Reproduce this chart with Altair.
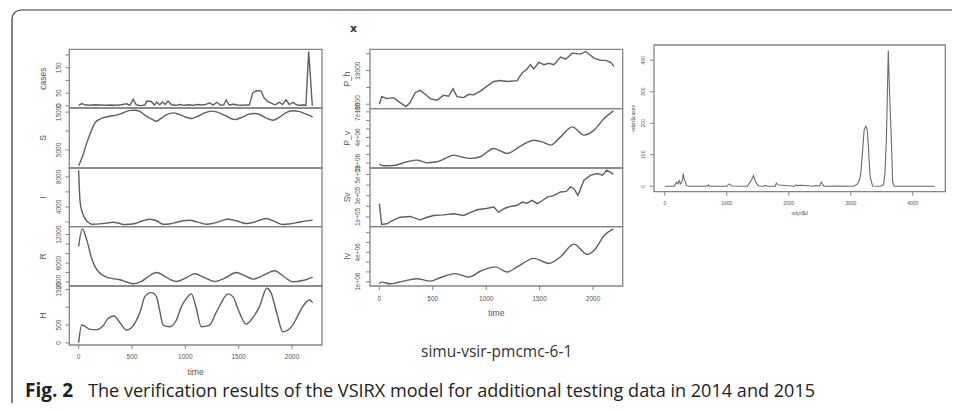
import altair as alt
import pandas as pd

# ---------------- data ----------------
cases_t = [0, 28, 60, 100, 150, 200, 250, 300, 350, 400, 450, 480, 511, 540, 580, 620, 640, 680, 710, 730,
           760, 785, 810, 838, 870, 910, 950, 990, 1030, 1070, 1110, 1150, 1190, 1227, 1260, 1296, 1330, 1360, 1383, 1410,
           1450, 1490, 1530, 1570, 1600, 1632, 1670, 1710, 1740, 1772, 1800, 1840, 1882, 1910, 1944, 1975, 2010, 2037, 2070, 2100,
           2130, 2156, 2190]
cases_v = [2, 9, 4, 2, 4, 3, 2, 3, 2, 4, 8, 2, 26, 4, 1, 3, 19, 17, 3, 15,
           4, 15, 5, 19, 4, 2, 5, 2, 4, 2, 5, 3, 5, 12, 3, 14, 2, 4, 23, 3,
           6, 3, 2, 3, 3, 52, 60, 58, 30, 17, 12, 4, 14, 5, 24, 5, 14, 5, 2, 3,
           2, 214, 0]

S_t = [0, 40, 75, 115, 153, 190, 230, 290, 355, 400, 449, 490, 526, 573, 620, 680, 729, 780, 830, 885,
       940, 1000, 1056, 1110, 1180, 1243, 1300, 1380, 1461, 1530, 1590, 1648, 1700, 1760, 1819, 1880, 1940, 2006, 2060, 2120, 2193]
S_v = [800, 3600, 6800, 9800, 12150, 13000, 13500, 13900, 14200, 14600, 15200, 15450, 15500, 15200, 14200, 13200, 12600, 13500, 14400, 14800,
       14400, 13700, 13300, 13800, 14800, 15250, 15000, 14000, 13000, 13600, 14400, 14650, 14300, 13400, 12850, 13600, 14800, 15350, 15200, 14600, 13750]

I_t = [0, 12, 28, 50, 75, 100, 121, 170, 230, 280, 324, 370, 417, 470, 526, 600, 667, 730, 791, 850,
       920, 980, 1040, 1110, 1196, 1260, 1330, 1399, 1480, 1570, 1640, 1700, 1757, 1830, 1913, 1990, 2060, 2131, 2193]
I_v = [8900, 4900, 3560, 2700, 2130, 1850, 1690, 1700, 1780, 1880, 1960, 1850, 1650, 1680, 1780, 2150, 2360, 2150, 1690, 1720,
       1950, 2150, 2230, 2000, 1690, 1800, 2100, 2360, 2150, 1780, 1950, 2250, 2450, 2100, 1650, 1750, 1950, 2130, 2230]

R_t = [0, 34, 75, 121, 150, 184, 220, 262, 320, 386, 450, 511, 589, 650, 729, 800, 860, 916, 1000, 1087,
       1180, 1274, 1370, 1477, 1560, 1632, 1740, 1835, 1920, 2006, 2100, 2193]
R_v = [9520, 13200, 10940, 7060, 5400, 4220, 3500, 3030, 2700, 2460, 2000, 1610, 2100, 3100, 4000, 3300, 2500, 2100, 2800, 3730,
       2900, 2100, 2800, 4000, 3300, 2600, 3500, 4370, 3200, 2030, 2300, 3030]

H_t = [0, 28, 60, 106, 168, 230, 277, 333, 390, 449, 526, 580, 620, 682, 729, 760, 791, 854, 916, 963,
       1010, 1056, 1100, 1150, 1227, 1280, 1321, 1399, 1446, 1500, 1570, 1630, 1695, 1763, 1804, 1860, 1913, 2006, 2060, 2100,
       2162, 2193]
H_v = [0, 500, 460, 378, 370, 480, 690, 754, 550, 359, 548, 900, 1300, 1412, 1300, 900, 500, 452, 641, 1017,
       1250, 1376, 1000, 452, 500, 800, 1036, 1376, 1300, 900, 528, 700, 1017, 1537, 1395, 800, 311, 500, 800, 1017,
       1206, 1130]

Ph_t = [0, 22, 69, 132, 194, 250, 288, 335, 382, 429, 476, 538, 601, 648, 689, 726, 789, 836, 883, 945,
        1008, 1070, 1133, 1196, 1290, 1336, 1383, 1414, 1446, 1493, 1540, 1587, 1634, 1696, 1743, 1806, 1884, 1931, 2009, 2072,
        2118, 2165, 2196]
Ph_v = [18000, 18226, 18168, 18197, 18050, 17933, 18050, 18344, 18412, 18295, 18168, 18118, 18265, 18236, 18462, 18226, 18197, 18295, 18280, 18392,
        18539, 18676, 18706, 18676, 18700, 18932, 19050, 19176, 19050, 19244, 19176, 19220, 19176, 19403, 19340, 19520, 19490, 19568, 19373, 19303,
        19303, 19244, 19126]

Pv_t = [0, 38, 132, 257, 351, 445, 538, 620, 695, 770, 851, 945, 1070, 1196, 1321, 1446, 1530, 1602, 1696, 1806,
        1915, 2009, 2103, 2190]
Pv_v = [870000, 670000, 700000, 1140000, 1340000, 1020000, 1140000, 1550000, 1930000, 1700000,
        1540000, 1730000, 2710000, 2120000, 2980000, 3680000, 3450000, 3100000, 4070000, 5240000,
        4270000, 4860000, 6230000, 7120000]

Sv_t = [0, 22, 69, 130, 194, 288, 382, 440, 507, 600, 695, 789, 850, 914, 1000, 1070, 1117, 1170, 1227, 1290,
        1336, 1380, 1430, 1477, 1520, 1571, 1630, 1696, 1750, 1790, 1821, 1859, 1915, 1978, 2041, 2088, 2128, 2190]
Sv_v = [225000, 29000, 36000, 70000, 98000, 105000, 73000, 95000, 114000, 120000, 130000, 114000, 140000, 168000, 180000, 193000, 145000, 180000, 199000, 210000,
        240000, 230000, 256000, 225000, 250000, 287000, 300000, 335000, 340000, 382000, 366000, 303000, 445000, 493000, 509000, 493000, 540000, 502000]

Iv_t = [0, 22, 100, 180, 257, 351, 476, 570, 711, 836, 945, 1086, 1196, 1290, 1446, 1587, 1696, 1821, 1946, 2009, 2103, 2190]
Iv_v = [790000, 960000, 790000, 950000, 1140000, 1310000, 1060000, 1410000, 1830000, 1480000, 2070000, 2510000, 1990000, 2510000,
        3380000, 2860000, 3550000, 4830000, 3790000, 4170000, 5690000, 6380000]

od_t = [0, 150, 189, 215, 232, 254, 270, 286, 297, 310, 324, 351, 400, 680, 703, 725, 1000, 1038, 1081, 1330,
        1378, 1405, 1432, 1455, 1476, 1514, 1600, 1622, 1650, 1780, 1800, 1820, 1838, 2090, 2108, 2150, 2189, 2400, 2416, 2500,
        2524, 2550, 2568, 2784, 3050, 3108, 3140, 3162, 3190, 3216, 3243, 3265, 3281, 3300, 3314, 3351, 3486, 3530, 3551, 3575,
        3605, 3625, 3649, 3676, 3703, 4351]
od_v = [0, 0, 13, 8, 18, 7.5, 12, 20, 40, 25, 18, 2, 0, 0, 4, 0, 0, 7.5, 1, 0,
        13, 22, 34, 20, 10, 1, 0, 3, 0, 0, 10, 6, 4, 0, 4, 2, 3, 0, 2, 1,
        13, 5, 0, 1, 0, 7.5, 20, 40, 110, 179, 190, 180, 136, 70, 29, 1, 0, 5, 40, 150,
        431, 300, 179, 13, 0, 0]

time_ticks = [0, 500, 1000, 1500, 2000]
od_x_ticks = [0, 1000, 2000, 3000, 4000]
od_y_ticks = [0, 100, 200, 300, 400]

caption_bold = "Fig. 2"
caption_text = "The verification results of the VSIRX model for additional testing data in 2014 and 2015"
subtitle = "simu-vsir-pmcmc-6-1"

# ---------------- helpers ----------------
OFF = 8  # page margin


def P(v):
    return v - OFF


def pad(vals):
    lo, hi = min(vals), max(vals)
    s = hi - lo
    return [lo - 0.04 * s, hi + 0.04 * s]


LINE = "#5f5f5f"
FRAME = "#858585"
TXT = "#555555"
FONT = "Liberation Sans"
one = pd.DataFrame({"a": [0]})

layers = []


def frame(x0, x1, y0, y1, color=FRAME, sw=1.3):
    return alt.Chart(one).mark_rect(fillOpacity=0, stroke=color, strokeWidth=sw).encode(
        x=alt.value(P(x0)), x2=alt.value(P(x1)), y=alt.value(P(y0)), y2=alt.value(P(y1)))


def text(s, x, y, size, angle=0, bold=False, color=TXT, font=FONT, align="center", baseline="middle"):
    kw = dict(text=s, fontSize=size, font=font, color=color, align=align, baseline=baseline,
              fontWeight="bold" if bold else "normal")
    if angle:
        kw["angle"] = angle
    return alt.Chart(one).mark_text(**kw).encode(x=alt.value(P(x)), y=alt.value(P(y)))


def subplot(t, v, xr, xdom_t, yr, yticks, ylabs, labx, title, titlex, interp, lab_size=6.5,
            title_size=8.5, color=LINE, sw=1.4, tick_len=4):
    xs = alt.Scale(domain=pad(xdom_t), range=[P(xr[0]), P(xr[1])], nice=False, zero=False)
    ys = alt.Scale(domain=pad(v), range=[P(yr[1]), P(yr[0])], nice=False, zero=False)
    df = pd.DataFrame({"t": t, "v": v})
    out = []
    out.append(alt.Chart(df).mark_line(color=color, strokeWidth=sw, interpolate=interp).encode(
        x=alt.X("t:Q", scale=xs, axis=None), y=alt.Y("v:Q", scale=ys, axis=None)))
    out.append(alt.Chart(pd.DataFrame({"v": yticks})).mark_rule(color=FRAME, strokeWidth=1).encode(
        y=alt.Y("v:Q", scale=ys, axis=None), x=alt.value(P(xr[0])), x2=alt.value(P(xr[0]) - tick_len)))
    out.append(alt.Chart(pd.DataFrame({"v": [a for a, b in ylabs], "s": [b for a, b in ylabs]})).mark_text(
        angle=270, fontSize=lab_size, font=FONT, color=TXT, align="center", baseline="middle").encode(
        y=alt.Y("v:Q", scale=ys, axis=None), x=alt.value(P(labx)), text="s:N"))
    out.append(frame(xr[0], xr[1], yr[0], yr[1]))
    out.append(text(title, titlex, (yr[0] + yr[1]) / 2, title_size, angle=270))
    return out, xs


def xaxis(xs, ticks, ybot, laby, size=6.5, tick_len=4):
    out = []
    out.append(alt.Chart(pd.DataFrame({"v": ticks})).mark_rule(color=FRAME, strokeWidth=1).encode(
        x=alt.X("v:Q", scale=xs, axis=None), y=alt.value(P(ybot)), y2=alt.value(P(ybot) + tick_len)))
    out.append(alt.Chart(pd.DataFrame({"v": ticks, "s": [str(k) for k in ticks]})).mark_text(
        fontSize=size, font=FONT, color=TXT, align="center", baseline="middle").encode(
        x=alt.X("v:Q", scale=xs, axis=None), y=alt.value(P(laby)), text="s:N"))
    return out


# ---------------- outer rounded frame ----------------
layers.append(alt.Chart(one).mark_rect(fillOpacity=0, stroke="#333333", strokeWidth=1.2, cornerRadius=9).encode(
    x=alt.value(P(12)), x2=alt.value(1200), y=alt.value(P(10)), y2=alt.value(900)))

# ---------------- left block ----------------
LX = (69.3, 322)
ly = [49.3, 108, 168, 226.7, 286, 345]
left_specs = [
    (cases_t, cases_v, [0, 50, 100, 150, 200], [(0, "0"), (50, "50"), (150, "150")], "cases", "linear"),
    (S_t, S_v, [5000, 10000, 15000], [(5000, "5000"), (15000, "15000")], "S", "monotone"),
    (I_t, I_v, [2000, 4000, 6000, 8000], [(4000, "4000"), (8000, "8000")], "I", "monotone"),
    (R_t, R_v, [2000, 4000, 6000, 8000, 10000, 12000], [(2000, "2000"), (6000, "6000"), (12000, "12000")], "R", "monotone"),
    (H_t, H_v, [0, 500, 1000, 1500], [(0, "0"), (500, "500"), (1500, "1500")], "H", "monotone"),
]
left_dom = [0, 2193]
for i, (t, v, tk, lb, ttl, ip) in enumerate(left_specs):
    ls, xs = subplot(t, v, LX, left_dom, (ly[i], ly[i + 1]), tk, lb, 59.3, ttl, 43, ip)
    layers += ls
layers += xaxis(xs, time_ticks, ly[-1], 357)
layers.append(text("time", (LX[0] + LX[1]) / 2, 372, 8.5))

# ---------------- middle block ----------------
MX = (370, 622.7)
my = [49.3, 108.7, 168, 226.7, 286]
mid_specs = [
    (Ph_t, Ph_v, [18000, 18500, 19000, 19500], [(18000, "18000"), (19000, "19000")], "P_h", "linear"),
    (Pv_t, Pv_v, [1e6, 2e6, 3e6, 4e6, 5e6, 6e6, 7e6], [(1e6, "1e+06"), (4e6, "4e+06"), (7e6, "7e+06")], "P_v", "monotone"),
    (Sv_t, Sv_v, [1e5, 2e5, 3e5, 4e5, 5e5], [(1e5, "1e+05"), (3e5, "3e+05"), (5e5, "5e+05")], "Sv", "linear"),
    (Iv_t, Iv_v, [1e6, 2e6, 3e6, 4e6, 5e6, 6e6], [(1e6, "1e+06"), (4e6, "4e+06")], "Iv", "monotone"),
]
mid_dom = [0, 2190]
for i, (t, v, tk, lb, ttl, ip) in enumerate(mid_specs):
    ls, xs = subplot(t, v, MX, mid_dom, (my[i], my[i + 1]), tk, lb, 358.3, ttl, 346.7, ip)
    layers += ls
layers += xaxis(xs, time_ticks, my[-1], 299)
layers.append(text("time", (MX[0] + MX[1]) / 2, 312.7, 8.5))
layers.append(text("x", 353.5, 29, 11, bold=True, color="#333333", font="DejaVu Sans"))
layers.append(text(subtitle, 496.7, 351.5, 15.5, color="#333333", font="Open Sans"))

# ---------------- right block ----------------
RX = (654, 945.3)
ry = (45, 191.7)
ls, xs = subplot(od_t, od_v, RX, od_t, ry, od_y_ticks, [(k, str(k)) for k in od_y_ticks], 642.7,
                 "odyn$cases", 632.7, "linear", lab_size=5, title_size=5, color="#6a6a6a", sw=1.1, tick_len=4)
layers += ls
layers += xaxis(xs, od_x_ticks, ry[1], 203.3, size=5)
layers.append(text("odyn$d", (RX[0] + RX[1]) / 2, 213.3, 5))

# ---------------- caption ----------------
layers.append(text(caption_bold, 25, 397, 19, bold=True, color="#222222", font="Open Sans",
                   align="left", baseline="alphabetic"))
layers.append(text(caption_text, 88, 397, 18.1, color="#222222", font="Open Sans",
                   align="left", baseline="alphabetic"))

chart = alt.layer(*layers).resolve_scale(x="independent", y="independent").properties(
    width=944, height=395, padding=0, autosize=alt.AutoSizeParams(type="none")
).configure_view(stroke=None)

chart.save("out.html", embed_options={"renderer": "svg", "actions": False})
